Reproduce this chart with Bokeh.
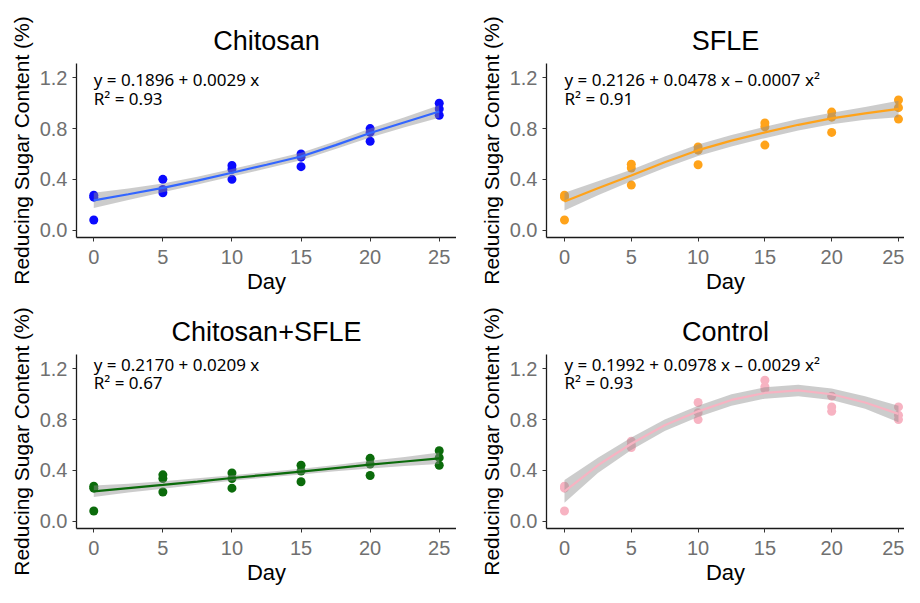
from bokeh.plotting import figure
from bokeh.layouts import column, row
from bokeh.models import Label, FixedTicker, NumeralTickFormatter, Range1d, ColumnDataSource
from bokeh.embed import file_html
from bokeh.resources import INLINE

# ---------------- data ----------------
days = [0, 5, 10, 15, 20, 25]
fit_days = [0, 2.5, 5, 7.5, 10, 12.5, 15, 17.5, 20, 22.5, 25]
x_ticks = [0, 5, 10, 15, 20, 25]
y_ticks = [0.0, 0.4, 0.8, 1.2]

titles = ["Chitosan", "SFLE", "Chitosan+SFLE", "Control"]

# three replicate measurements per day
chitosan_pts = [[0.08, 0.26, 0.275], [0.295, 0.32, 0.40], [0.40, 0.48, 0.51],
                [0.50, 0.575, 0.60], [0.70, 0.77, 0.80], [0.905, 0.955, 1.00]]
sfle_pts = [[0.08, 0.26, 0.275], [0.355, 0.49, 0.52], [0.515, 0.63, 0.655],
            [0.67, 0.815, 0.845], [0.77, 0.89, 0.93], [0.875, 0.965, 1.025]]
combo_pts = [[0.08, 0.26, 0.275], [0.23, 0.335, 0.365], [0.26, 0.335, 0.38],
             [0.31, 0.395, 0.44], [0.36, 0.45, 0.495], [0.44, 0.50, 0.555]]
control_pts = [[0.08, 0.26, 0.275], [0.58, 0.60, 0.63], [0.80, 0.855, 0.935],
               [1.04, 1.06, 1.11], [0.865, 0.90, 0.985], [0.80, 0.835, 0.90]]

# fitted curve and half-width of the grey confidence band
chitosan_fit = [0.235, 0.283, 0.333, 0.39, 0.452, 0.515, 0.58, 0.67, 0.765, 0.85, 0.935]
chitosan_hw = [0.06, 0.045, 0.035, 0.03, 0.03, 0.03, 0.03, 0.03, 0.035, 0.04, 0.05]
sfle_fit = [0.225, 0.33, 0.43, 0.535, 0.63, 0.705, 0.77, 0.83, 0.88, 0.92, 0.955]
sfle_hw = [0.07, 0.055, 0.045, 0.045, 0.045, 0.045, 0.045, 0.045, 0.045, 0.05, 0.065]
combo_fit = [0.235, 0.26, 0.285, 0.312, 0.34, 0.365, 0.39, 0.418, 0.445, 0.47, 0.495]
combo_hw = [0.045, 0.035, 0.03, 0.025, 0.022, 0.022, 0.022, 0.025, 0.03, 0.035, 0.045]
control_fit = [0.235, 0.44, 0.61, 0.755, 0.865, 0.955, 1.01, 1.03, 1.0, 0.935, 0.845]
control_hw = [0.09, 0.06, 0.05, 0.045, 0.045, 0.045, 0.045, 0.045, 0.045, 0.05, 0.065]

equations = ["y = 0.1896 + 0.0029 x",
             "y = 0.2126 + 0.0478 x \u2013 0.0007 x\u00b2",
             "y = 0.2170 + 0.0209 x",
             "y = 0.1992 + 0.0978 x \u2013 0.0029 x\u00b2"]
r_squared = ["R\u00b2 = 0.93", "R\u00b2 = 0.91", "R\u00b2 = 0.67", "R\u00b2 = 0.93"]

point_colors = ["#0a0aff", "#ffa31a", "#0b6b0b", "#f7b3c2"]
line_colors = ["#3366ff", "#ffa31a", "#0b6b0b", "#f7b3c2"]

# ---------------- panels ----------------
AXIS_FONT = "Liberation Sans"


def make_panel(i, pts, fit, hw, width, height, left, top, bottom, x_start, x_end, eq_y, r2_y):
    p = figure(width=width, height=height, output_backend="svg", toolbar_location=None,
               x_range=Range1d(x_start, x_end), y_range=Range1d(-0.058, 1.313),
               min_border_left=left, min_border_right=0, min_border_top=top,
               min_border_bottom=bottom, title=titles[i])
    p.outline_line_color = None
    p.xgrid.visible = False
    p.ygrid.visible = False
    p.background_fill_color = "white"
    p.border_fill_color = "white"

    p.title.text_font = AXIS_FONT
    p.title.text_font_size = "27px"
    p.title.text_font_style = "normal"
    p.title.text_color = "black"
    p.title.align = "center"
    p.title.standoff = 15

    for ax in (p.xaxis[0], p.yaxis[0]):
        ax.axis_line_color = "#1a1a1a"
        ax.axis_line_width = 1.3
        ax.major_tick_line_color = "#333333"
        ax.major_tick_in = 0
        ax.major_tick_out = 4
        ax.minor_tick_line_color = None
        ax.major_label_text_font = AXIS_FONT
        ax.major_label_text_font_size = "20px"
        ax.major_label_text_color = "#707070"
        ax.axis_label_text_font = AXIS_FONT
        ax.axis_label_text_font_style = "normal"
        ax.axis_label_text_color = "black"

    p.xaxis.ticker = FixedTicker(ticks=x_ticks)
    p.yaxis.ticker = FixedTicker(ticks=y_ticks)
    p.yaxis.formatter = NumeralTickFormatter(format="0.0")
    p.xaxis.axis_label = "Day"
    p.yaxis.axis_label = "Reducing Sugar Content (%)"
    p.xaxis.axis_label_text_font_size = "22px"
    p.yaxis.axis_label_text_font_size = "21px"
    p.xaxis.major_label_standoff = 8
    p.xaxis.axis_label_standoff = 2
    p.yaxis.major_label_standoff = 5
    p.yaxis.axis_label_standoff = 4

    xs, ys = [], []
    for d, vals in zip(days, pts):
        for v in vals:
            xs.append(d)
            ys.append(v)
    p.scatter(xs, ys, size=9, color=point_colors[i], line_color=None)

    lower = [f - h for f, h in zip(fit, hw)]
    upper = [f + h for f, h in zip(fit, hw)]
    src = ColumnDataSource(dict(x=fit_days, lo=lower, hi=upper, y=fit))
    p.varea(x="x", y1="lo", y2="hi", source=src, fill_color="#8f8f8f", fill_alpha=0.45)
    p.line(x="x", y="y", source=src, line_color=line_colors[i], line_width=2.2)

    for txt, yy in ((equations[i], eq_y), (r_squared[i], r2_y)):
        p.add_layout(Label(x=0, y=yy, x_units="data", y_units="data", text=txt,
                           text_font="Noto Sans", text_font_size="17px",
                           text_baseline="middle", text_align="left", text_color="black"))
    return p


p1 = make_panel(0, chitosan_pts, chitosan_fit, chitosan_hw, 456, 296, 76, 63, 56,
                -1.25, 26.25, 1.184, 1.04)
p2 = make_panel(1, sfle_pts, sfle_fit, sfle_hw, 448, 296, 90, 63, 56,
                -1.347, 25.45, 1.184, 1.04)
p3 = make_panel(2, combo_pts, combo_fit, combo_hw, 456, 291, 76, 58, 56,
                -1.25, 26.25, 1.237, 1.09)
p4 = make_panel(3, control_pts, control_fit, control_hw, 448, 291, 90, 58, 56,
                -1.347, 25.45, 1.237, 1.09)

layout = column(row(p1, p2), row(p3, p4))

open("out.html", "w").write(file_html(layout, INLINE))
